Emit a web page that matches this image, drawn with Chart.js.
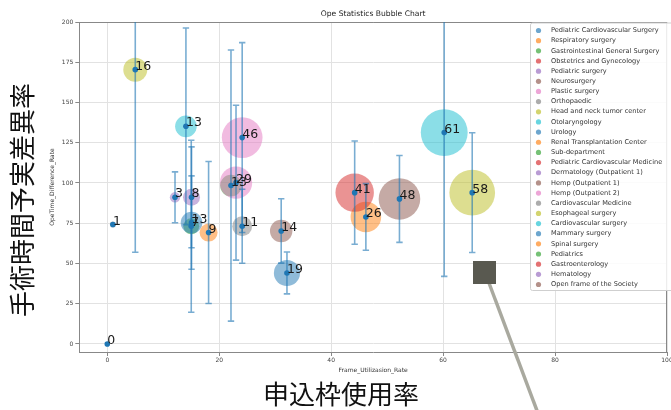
<!DOCTYPE html>
<html>
<head>
<meta charset="utf-8">
<script src="https://cdn.jsdelivr.net/npm/chart.js@4"></script>
<style>
  html, body { margin: 0; padding: 0; background: #fff; }
  #wrap { width: 671px; height: 410px; position: relative; overflow: hidden; }
</style>
</head>
<body>
<div id="wrap"><canvas id="c" width="671" height="410"></canvas></div>
<script>
// Departments (legend order)
const departments = [
  'Pediatric Cardiovascular Surgery', 'Respiratory surgery', 'Gastrointestinal General Surgery',
  'Obstetrics and Gynecology', 'Pediatric surgery', 'Neurosurgery', 'Plastic surgery',
  'Orthopaedic', 'Head and neck tumor center', 'Otolaryngology', 'Urology',
  'Renal Transplantation Center', 'Sub-department', 'Pediatric Cardiovascular Medicine',
  'Dermatology (Outpatient 1)', 'Hemp (Outpatient 1)', 'Hemp (Outpatient 2)',
  'Cardiovascular Medicine', 'Esophageal surgery', 'Cardiovascular surgery',
  'Mammary surgery', 'Spinal surgery', 'Pediatrics', 'Gastroenterology', 'Hematology',
  'Open frame of the Society'
];
// Frame utilization rate (x)
const frameUtilization = [32.1, 46.2, 15.0, 44.2, 15.05, 52.2, 24.1, 24.1, 65.2, 60.2, 15.05,
  18.1, 22.1, 0, 12.1, 31.07, 23.0, 1.0, 5.0, 14.05, null, null, null, null, null, null];
// Operation time difference rate (y)
const opeTimeDiff = [44.1, 78.9, 73.1, 94.0, 91.1, 90.1, 128.2, 73.1, 94.0, 131.3, 75.4,
  69.2, 98.4, 0, 91.1, 70.2, 100.2, 74.2, 170.4, 135.2, null, null, null, null, null, null];
// Number of cases (bubble label / size)
const caseCounts = [19, 26, 7, 41, 8, 48, 46, 11, 58, 61, 13,
  9, 13, 0, 3, 14, 29, 1, 16, 13, null, null, null, null, null, null];
// Symmetric error of the difference rate
const diffError = [13, 20.7, 53.4, 32.1, 31.3, 27, 59, 23, 37.2, 89.3, 29,
  44.1, 84.2, 0, 15.8, 20, 48.1, 0, 113.4, 61.1, null, null, null, null, null, null];

const xTicks = [0, 20, 40, 60, 80, 100];
const yTicks = [0, 25, 50, 75, 100, 125, 150, 175, 200];

const palette = ['#1f77b4', '#ff7f0e', '#2ca02c', '#d62728', '#9467bd',
                 '#8c564b', '#e377c2', '#7f7f7f', '#bcbd22', '#17becf'];

function rgba(hex, a) {
  const n = parseInt(hex.slice(1), 16);
  return `rgba(${(n >> 16) & 255},${(n >> 8) & 255},${n & 255},${a})`;
}
const bubbleRadius = n => 3 * Math.sqrt(n);
const FONT = '"DejaVu Sans", sans-serif';

const datasets = departments.map((name, i) => {
  const col = palette[i % palette.length];
  const has = frameUtilization[i] !== null;
  return {
    label: name,
    data: has ? [{ x: frameUtilization[i], y: opeTimeDiff[i], r: bubbleRadius(caseCounts[i]) }] : [],
    backgroundColor: rgba(col, 0.5),
    legendColor: rgba(col, 0.65),
    borderWidth: 0,
    hoverRadius: 0,
    order: departments.length - i
  };
});

// Plot frame: top and right spines
const frameSpines = {
  id: 'frameSpines',
  beforeDatasetsDraw(chart) {
    const { ctx, chartArea: a } = chart;
    ctx.save();
    ctx.strokeStyle = '#888';
    ctx.lineWidth = 1;
    ctx.beginPath();
    ctx.moveTo(a.left, a.top + 0.5);
    ctx.lineTo(a.right, a.top + 0.5);
    ctx.moveTo(a.right - 0.5, a.top);
    ctx.lineTo(a.right - 0.5, a.bottom);
    ctx.stroke();
    ctx.restore();
  }
};

// Error bars, center markers and case-count labels
const errorBars = {
  id: 'errorBars',
  afterDatasetsDraw(chart) {
    const { ctx, chartArea: a, scales: { x, y } } = chart;
    ctx.save();
    ctx.beginPath();
    ctx.rect(a.left, a.top, a.right - a.left, a.bottom - a.top);
    ctx.clip();
    ctx.strokeStyle = rgba('#1f77b4', 0.6);
    ctx.lineWidth = 1.6;
    departments.forEach((_, i) => {
      if (frameUtilization[i] === null || !diffError[i]) return;
      const px = x.getPixelForValue(frameUtilization[i]);
      const lo = y.getPixelForValue(opeTimeDiff[i] - diffError[i]);
      const hi = y.getPixelForValue(opeTimeDiff[i] + diffError[i]);
      ctx.beginPath();
      ctx.moveTo(px, lo); ctx.lineTo(px, hi);
      ctx.moveTo(px - 3.2, lo); ctx.lineTo(px + 3.2, lo);
      ctx.moveTo(px - 3.2, hi); ctx.lineTo(px + 3.2, hi);
      ctx.stroke();
    });
    ctx.fillStyle = '#1f77b4';
    departments.forEach((_, i) => {
      if (frameUtilization[i] === null) return;
      const px = x.getPixelForValue(frameUtilization[i]);
      const py = y.getPixelForValue(opeTimeDiff[i]);
      ctx.beginPath();
      ctx.arc(px, py, 2.8, 0, Math.PI * 2);
      ctx.fill();
    });
    ctx.restore();

    ctx.save();
    ctx.fillStyle = '#1a1a1a';
    ctx.font = '12.5px ' + FONT;
    ctx.textAlign = 'left';
    ctx.textBaseline = 'alphabetic';
    departments.forEach((_, i) => {
      if (frameUtilization[i] === null) return;
      const px = x.getPixelForValue(frameUtilization[i]);
      const py = y.getPixelForValue(opeTimeDiff[i]);
      ctx.fillText(String(caseCounts[i]), px, py);
    });
    ctx.restore();
  }
};

// Title, in-plot legend and Japanese captions
const overlay = {
  id: 'overlay',
  afterDraw(chart) {
    const { ctx, chartArea: a } = chart;
    ctx.save();
    // title
    ctx.fillStyle = '#222';
    ctx.font = '7.6px ' + FONT;
    ctx.textAlign = 'center';
    ctx.textBaseline = 'middle';
    ctx.fillText('Ope Statistics Bubble Chart', (a.left + a.right) / 2, 14);

    // legend box
    const lx = 530, ly = 22.5, lh = 267.5, lw = 160;
    ctx.fillStyle = 'rgba(255,255,255,0.85)';
    ctx.strokeStyle = '#cfcfcf';
    ctx.lineWidth = 1;
    ctx.beginPath();
    ctx.roundRect(lx + 0.5, ly + 0.5, lw, lh, 2);
    ctx.fill();
    ctx.stroke();
    ctx.font = '6.6px ' + FONT;
    ctx.textAlign = 'left';
    ctx.textBaseline = 'middle';
    chart.data.datasets.forEach((ds, i) => {
      const cy = 30.5 + i * 10.16;
      ctx.fillStyle = ds.legendColor;
      ctx.beginPath();
      ctx.arc(538.5, cy, 2.6, 0, Math.PI * 2);
      ctx.fill();
      ctx.fillStyle = '#333';
      ctx.fillText(ds.label, 551, cy);
    });

    // pointer marker
    ctx.strokeStyle = '#a9a99f';
    ctx.lineWidth = 3.5;
    ctx.beginPath();
    ctx.moveTo(489, 283);
    ctx.lineTo(537.5, 412);
    ctx.stroke();
    ctx.fillStyle = '#595950';
    ctx.fillRect(473, 261, 23, 23);

    // captions
    ctx.fillStyle = '#111';
    ctx.font = '26px "Noto Sans CJK JP", sans-serif';
    ctx.textAlign = 'center';
    ctx.textBaseline = 'middle';
    ctx.fillText('申込枠使用率', 341, 394);
    ctx.translate(22, 200);
    ctx.rotate(-Math.PI / 2);
    ctx.fillText('手術時間予実差異率', 0, 0);
    ctx.restore();
  }
};

new Chart(document.getElementById('c'), {
  type: 'bubble',
  data: { datasets },
  options: {
    responsive: false,
    devicePixelRatio: 1,
    animation: false,
    events: [],
    layout: { autoPadding: false, padding: { left: 45, top: 22, right: 4, bottom: 32 } },
    plugins: { legend: { display: false }, tooltip: { enabled: false } },
    scales: {
      x: {
        type: 'linear', min: -5, max: 100,
        afterBuildTicks: ax => { ax.ticks = xTicks.map(v => ({ value: v })); },
        afterFit: ax => { ax.height = 26; ax.paddingLeft = 0; ax.paddingRight = 0; },
        grid: { color: '#e2e2e2', lineWidth: 1, tickLength: 4, tickColor: '#888' },
        border: { color: '#888', width: 1 },
        ticks: { font: { size: 6, family: FONT }, color: '#444', padding: 1, maxRotation: 0 },
        title: { display: true, text: 'Frame_Utilizasion_Rate', font: { size: 6, family: FONT },
                 color: '#333', padding: { top: 4, bottom: 4 } }
      },
      y: {
        type: 'linear', min: -5, max: 200,
        afterBuildTicks: ax => { ax.ticks = yTicks.map(v => ({ value: v })); },
        afterFit: ax => { ax.width = 34.3; ax.paddingTop = 0; ax.paddingBottom = 0; },
        grid: { color: '#e2e2e2', lineWidth: 1, tickLength: 4, tickColor: '#888' },
        border: { color: '#888', width: 1 },
        ticks: { font: { size: 6, family: FONT }, color: '#444', padding: 2 },
        title: { display: true, text: 'OpeTime_Difference_Rate', font: { size: 6, family: FONT },
                 color: '#333', padding: { top: 4, bottom: 4 } }
      }
    }
  },
  plugins: [frameSpines, errorBars, overlay]
});
</script>
</body>
</html>
